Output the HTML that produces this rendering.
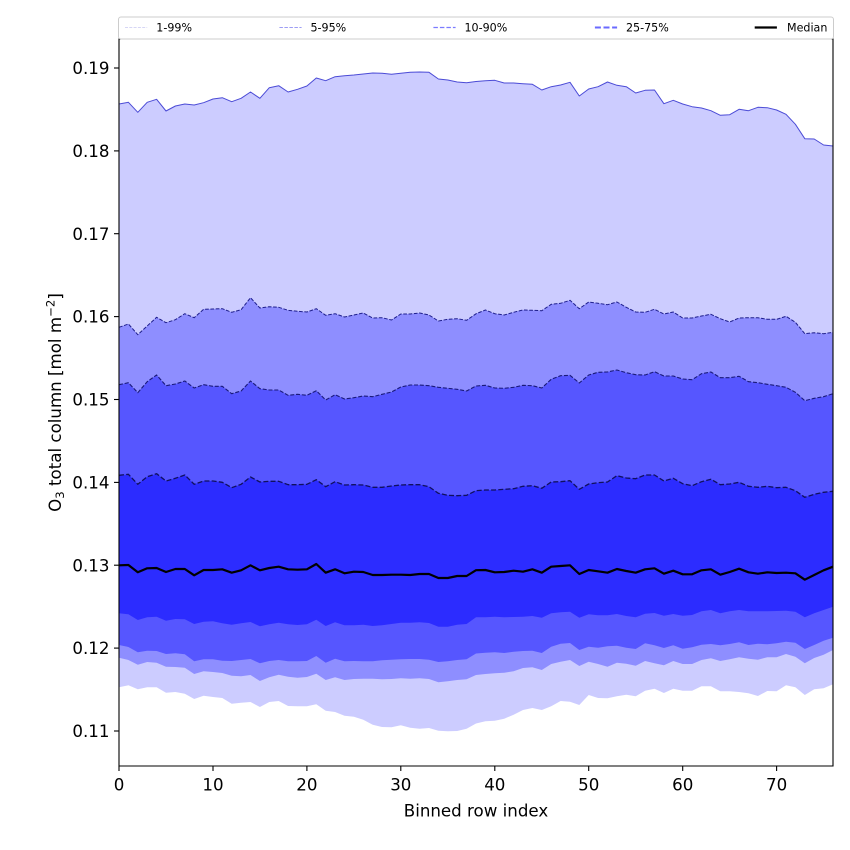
<!DOCTYPE html>
<html>
<head>
<meta charset="utf-8">
<style>
  html, body { margin:0; padding:0; background:#ffffff; }
  svg { display:block; }
  text { font-family: "DejaVu Sans", "Liberation Sans", sans-serif; fill:#000; }
</style>
</head>
<body>
<svg width="850" height="850" viewBox="0 0 850 850" xmlns="http://www.w3.org/2000/svg">
  <rect x="0" y="0" width="850" height="850" fill="#ffffff"/>

  <!-- Bands (stacked fills) -->
  <polygon fill="#ccccff" points="119,104 128.4,102.3 137.8,112.3 147.2,102.3 156.6,99.3 166,111 175.4,106 184.8,104 194.2,105 203.6,102.7 213,99 222.3,97.7 231.7,101.7 241.1,98.3 250.5,92 259.9,98.3 269.3,87.7 278.7,85.7 288.1,92 297.5,89.3 306.9,86 316.3,78 325.7,80.7 335.1,76.7 344.5,75.7 353.9,75 363.3,74 372.7,73 382.1,73.3 391.5,74.3 400.8,73.3 410.2,72.3 419.6,72 429,72.3 438.4,79 447.8,80 457.2,82 466.6,82.7 476,81.5 485.4,80.7 494.8,80.3 504.2,83 513.6,83 523,83.7 532.4,84.3 541.8,90 551.2,86.7 560.6,85 570,82.3 579.3,96 588.7,89 598.1,86.7 607.5,82 616.9,85.3 626.3,86.7 635.7,93 645.1,90.3 654.5,90 663.9,103.7 673.3,100.3 682.7,104 692.1,106.7 701.5,108 710.9,110.7 720.3,115.3 729.7,114.7 739.1,109.3 748.5,110.7 757.9,107.3 767.3,107.7 776.6,110 786,114.3 795.4,124.3 804.8,138.7 814.2,139 823.6,145 833,146 833,766 119,766"/>
  <polygon fill="#8e8eff" points="119,327.3 128.4,324 137.8,334.7 147.2,326 156.6,317.3 166,322.7 175.4,319.7 184.8,313.7 194.2,317.7 203.6,309.3 213,309 222.3,308.7 231.7,312.3 241.1,309.7 250.5,297.7 259.9,308 269.3,306.7 278.7,307.3 288.1,310.3 297.5,311.3 306.9,312 316.3,308.7 325.7,315.3 335.1,313.7 344.5,317 353.9,315 363.3,313 372.7,318 382.1,317.7 391.5,320 400.8,314 410.2,314 419.6,313 429,315 438.4,321 447.8,319.3 457.2,318.7 466.6,320.3 476,313.8 485.4,310 494.8,313.7 504.2,315 513.6,312.3 523,310 532.4,310.3 541.8,310.7 551.2,304.3 560.6,303.3 570,300.3 579.3,308.7 588.7,302 598.1,303.3 607.5,304.7 616.9,302 626.3,307.3 635.7,312 645.1,312.3 654.5,309.3 663.9,314 673.3,312 682.7,318 692.1,318 701.5,316 710.9,314.3 720.3,318.7 729.7,322 739.1,318 748.5,317.7 757.9,317.7 767.3,319.3 776.6,319.3 786,316.3 795.4,322.3 804.8,333.7 814.2,332.7 823.6,333.7 833,332.3 833,766 119,766"/>
  <polygon fill="#5656ff" points="119,384.7 128.4,382.7 137.8,392.7 147.2,381.7 156.6,375 166,385.7 175.4,384 184.8,381 194.2,388 203.6,384.7 213,386.3 222.3,386.3 231.7,393.7 241.1,391 250.5,381 259.9,388.7 269.3,390 278.7,390 288.1,395.3 297.5,394.3 306.9,395.3 316.3,390.7 325.7,400 335.1,394.7 344.5,399 353.9,397.7 363.3,396 372.7,396.7 382.1,394.3 391.5,392 400.8,387 410.2,385 419.6,385 429,385.7 438.4,387.3 447.8,388.3 457.2,389.3 466.6,391 476,386 485.4,385.3 494.8,388 504.2,388.3 513.6,387.3 523,385.3 532.4,385.7 541.8,388 551.2,379.3 560.6,375.7 570,375.3 579.3,383 588.7,375 598.1,372.3 607.5,372 616.9,370 626.3,372.7 635.7,374.7 645.1,375 654.5,371.7 663.9,376 673.3,376 682.7,379 692.1,379.7 701.5,373.7 710.9,372 720.3,377.7 729.7,377.7 739.1,376.3 748.5,381.7 757.9,382.7 767.3,384.3 776.6,385.7 786,387.3 795.4,392.3 804.8,400.7 814.2,398.3 823.6,396.7 833,393.7 833,766 119,766"/>
  <polygon fill="#2c2cff" points="119,475.3 128.4,474.3 137.8,484.3 147.2,476.7 156.6,473.7 166,481 175.4,478.3 184.8,475 194.2,484.3 203.6,481 213,481 222.3,482.3 231.7,487.7 241.1,484.3 250.5,477 259.9,482 269.3,481.3 278.7,481.3 288.1,484.7 297.5,484.7 306.9,484.3 316.3,479.7 325.7,486.7 335.1,481.7 344.5,485 353.9,484.7 363.3,485 372.7,487.3 382.1,487.3 391.5,486 400.8,485 410.2,484.7 419.6,484.7 429,486.7 438.4,493.3 447.8,495.3 457.2,495.7 466.6,495.3 476,490.7 485.4,490 494.8,490 504.2,489.3 513.6,488.7 523,486.3 532.4,485.7 541.8,488.3 551.2,482 560.6,481.7 570,480.7 579.3,489.3 588.7,484 598.1,482.7 607.5,482 616.9,475.7 626.3,478 635.7,478.7 645.1,475 654.5,475 663.9,481 673.3,478.3 682.7,483.7 692.1,485.7 701.5,481.7 710.9,479.3 720.3,484.7 729.7,484 739.1,482.3 748.5,486.3 757.9,487.3 767.3,486.3 776.6,487.7 786,487.3 795.4,490.7 804.8,497.3 814.2,494.3 823.6,492.3 833,491.3 833,766 119,766"/>
  <polygon fill="#5656ff" points="119,613.3 128.4,614.3 137.8,620 147.2,617.3 156.6,616.7 166,620.7 175.4,619 184.8,619.3 194.2,624 203.6,621.7 213,621.3 222.3,623.3 231.7,624.7 241.1,623.3 250.5,622 259.9,626.3 269.3,624.3 278.7,622.7 288.1,624.3 297.5,625 306.9,624.3 316.3,619.7 325.7,626 335.1,622.3 344.5,625.3 353.9,625.3 363.3,624.7 372.7,626 382.1,625.3 391.5,624 400.8,622.7 410.2,622.7 419.6,622.3 429,623 438.4,626.7 447.8,626.7 457.2,624.7 466.6,624 476,617.3 485.4,617.3 494.8,616.7 504.2,617.3 513.6,617 523,616.7 532.4,616 541.8,617.7 551.2,613.3 560.6,612.3 570,611.7 579.3,617.7 588.7,614.3 598.1,615.3 607.5,615.3 616.9,614 626.3,616 635.7,617.3 645.1,613.7 654.5,613 663.9,615.7 673.3,614 682.7,615.7 692.1,615 701.5,611.3 710.9,610 720.3,613.3 729.7,611.3 739.1,610 748.5,611.3 757.9,611.3 767.3,611.3 776.6,611 786,610.7 795.4,611.7 804.8,617.3 814.2,613.3 823.6,610 833,606.7 833,766 119,766"/>
  <polygon fill="#8e8eff" points="119,645 128.4,647 137.8,652.3 147.2,650.7 156.6,651 166,654 175.4,653.3 184.8,654.3 194.2,661.3 203.6,659.3 213,659.3 222.3,660.7 231.7,661 241.1,660 250.5,659 259.9,663.3 269.3,661 278.7,660 288.1,661.3 297.5,661.3 306.9,661 316.3,656 325.7,662.7 335.1,658.7 344.5,661.3 353.9,661 363.3,661.3 372.7,661.3 382.1,660.3 391.5,659.7 400.8,659.3 410.2,659 419.6,659 429,659.7 438.4,662 447.8,661.3 457.2,660 466.6,659.3 476,653.5 485.4,652.7 494.8,652.3 504.2,653 513.6,651.7 523,651 532.4,650.7 541.8,653 551.2,646.7 560.6,643.7 570,643 579.3,650 588.7,646.7 598.1,647.7 607.5,646.3 616.9,645.7 626.3,647.7 635.7,649 645.1,643.3 654.5,645.3 663.9,648 673.3,645.3 682.7,648.7 692.1,647.3 701.5,644.7 710.9,644 720.3,645.3 729.7,644 739.1,642.3 748.5,645 757.9,643.7 767.3,644.3 776.6,643.3 786,641.7 795.4,642.7 804.8,649 814.2,645 823.6,640.7 833,637.7 833,766 119,766"/>
  <polygon fill="#ccccff" points="119,657.7 128.4,660 137.8,664.7 147.2,662 156.6,662.7 166,666.7 175.4,667 184.8,667.7 194.2,674 203.6,671.3 213,672 222.3,673 231.7,675.7 241.1,676.3 250.5,675 259.9,681 269.3,677.3 278.7,674.7 288.1,676.7 297.5,677.7 306.9,677 316.3,673.7 325.7,680 335.1,677.3 344.5,680 353.9,679 363.3,678.7 372.7,678.7 382.1,679.3 391.5,679 400.8,678.3 410.2,678.7 419.6,678.3 429,679 438.4,682.3 447.8,681.3 457.2,680 466.6,679.3 476,675 485.4,674 494.8,673.3 504.2,672.7 513.6,671.3 523,668 532.4,667.3 541.8,670 551.2,664 560.6,661.7 570,660 579.3,666 588.7,661.7 598.1,664 607.5,666.7 616.9,662.7 626.3,663.7 635.7,665.7 645.1,661 654.5,663.3 663.9,665.3 673.3,661 682.7,664 692.1,664 701.5,660 710.9,658.3 720.3,661 729.7,659.3 739.1,657.3 748.5,658.7 757.9,659.7 767.3,657.3 776.6,657.3 786,654 795.4,656.7 804.8,663.3 814.2,658 823.6,654.7 833,650 833,766 119,766"/>
  <polygon fill="#ffffff" points="119,687.3 128.4,685.3 137.8,689.3 147.2,687.3 156.6,687.3 166,692.7 175.4,692 184.8,693.7 194.2,699 203.6,695.7 213,697 222.3,698 231.7,703.7 241.1,702.7 250.5,702 259.9,707 269.3,702 278.7,701 288.1,706 297.5,706.3 306.9,706.3 316.3,704.3 325.7,710.7 335.1,712 344.5,715.7 353.9,716.7 363.3,719.7 372.7,724.7 382.1,727 391.5,727.3 400.8,725.3 410.2,727.7 419.6,728.7 429,728 438.4,730.7 447.8,731.3 457.2,731 466.6,728.7 476,723.5 485.4,721.3 494.8,720.7 504.2,718.7 513.6,714.7 523,710 532.4,708 541.8,710 551.2,706.3 560.6,701 570,701.7 579.3,705 588.7,695 598.1,698 607.5,698.3 616.9,696.3 626.3,694.7 635.7,696.3 645.1,690.7 654.5,688.7 663.9,693 673.3,688.7 682.7,690.7 692.1,690.7 701.5,686.3 710.9,686.3 720.3,691.3 729.7,691.3 739.1,692 748.5,693.3 757.9,696 767.3,691 776.6,691.3 786,685.3 795.4,687.3 804.8,695 814.2,689.3 823.6,688.3 833,684.3 833,766 119,766"/>

  <!-- Upper percentile lines -->
  <polyline fill="none" stroke="#4b4bd6" stroke-width="1" stroke-linejoin="round" points="119,104 128.4,102.3 137.8,112.3 147.2,102.3 156.6,99.3 166,111 175.4,106 184.8,104 194.2,105 203.6,102.7 213,99 222.3,97.7 231.7,101.7 241.1,98.3 250.5,92 259.9,98.3 269.3,87.7 278.7,85.7 288.1,92 297.5,89.3 306.9,86 316.3,78 325.7,80.7 335.1,76.7 344.5,75.7 353.9,75 363.3,74 372.7,73 382.1,73.3 391.5,74.3 400.8,73.3 410.2,72.3 419.6,72 429,72.3 438.4,79 447.8,80 457.2,82 466.6,82.7 476,81.5 485.4,80.7 494.8,80.3 504.2,83 513.6,83 523,83.7 532.4,84.3 541.8,90 551.2,86.7 560.6,85 570,82.3 579.3,96 588.7,89 598.1,86.7 607.5,82 616.9,85.3 626.3,86.7 635.7,93 645.1,90.3 654.5,90 663.9,103.7 673.3,100.3 682.7,104 692.1,106.7 701.5,108 710.9,110.7 720.3,115.3 729.7,114.7 739.1,109.3 748.5,110.7 757.9,107.3 767.3,107.7 776.6,110 786,114.3 795.4,124.3 804.8,138.7 814.2,139 823.6,145 833,146"/>
  <polyline fill="none" stroke="#1e1e8c" stroke-width="1" stroke-dasharray="3.7,1.6" stroke-linejoin="round" points="119,327.3 128.4,324 137.8,334.7 147.2,326 156.6,317.3 166,322.7 175.4,319.7 184.8,313.7 194.2,317.7 203.6,309.3 213,309 222.3,308.7 231.7,312.3 241.1,309.7 250.5,297.7 259.9,308 269.3,306.7 278.7,307.3 288.1,310.3 297.5,311.3 306.9,312 316.3,308.7 325.7,315.3 335.1,313.7 344.5,317 353.9,315 363.3,313 372.7,318 382.1,317.7 391.5,320 400.8,314 410.2,314 419.6,313 429,315 438.4,321 447.8,319.3 457.2,318.7 466.6,320.3 476,313.8 485.4,310 494.8,313.7 504.2,315 513.6,312.3 523,310 532.4,310.3 541.8,310.7 551.2,304.3 560.6,303.3 570,300.3 579.3,308.7 588.7,302 598.1,303.3 607.5,304.7 616.9,302 626.3,307.3 635.7,312 645.1,312.3 654.5,309.3 663.9,314 673.3,312 682.7,318 692.1,318 701.5,316 710.9,314.3 720.3,318.7 729.7,322 739.1,318 748.5,317.7 757.9,317.7 767.3,319.3 776.6,319.3 786,316.3 795.4,322.3 804.8,333.7 814.2,332.7 823.6,333.7 833,332.3"/>
  <polyline fill="none" stroke="#1a1a7a" stroke-width="1.1" stroke-dasharray="4,1.8" stroke-linejoin="round" points="119,384.7 128.4,382.7 137.8,392.7 147.2,381.7 156.6,375 166,385.7 175.4,384 184.8,381 194.2,388 203.6,384.7 213,386.3 222.3,386.3 231.7,393.7 241.1,391 250.5,381 259.9,388.7 269.3,390 278.7,390 288.1,395.3 297.5,394.3 306.9,395.3 316.3,390.7 325.7,400 335.1,394.7 344.5,399 353.9,397.7 363.3,396 372.7,396.7 382.1,394.3 391.5,392 400.8,387 410.2,385 419.6,385 429,385.7 438.4,387.3 447.8,388.3 457.2,389.3 466.6,391 476,386 485.4,385.3 494.8,388 504.2,388.3 513.6,387.3 523,385.3 532.4,385.7 541.8,388 551.2,379.3 560.6,375.7 570,375.3 579.3,383 588.7,375 598.1,372.3 607.5,372 616.9,370 626.3,372.7 635.7,374.7 645.1,375 654.5,371.7 663.9,376 673.3,376 682.7,379 692.1,379.7 701.5,373.7 710.9,372 720.3,377.7 729.7,377.7 739.1,376.3 748.5,381.7 757.9,382.7 767.3,384.3 776.6,385.7 786,387.3 795.4,392.3 804.8,400.7 814.2,398.3 823.6,396.7 833,393.7"/>
  <polyline fill="none" stroke="#10105e" stroke-width="1.3" stroke-dasharray="5,2.2" stroke-linejoin="round" points="119,475.3 128.4,474.3 137.8,484.3 147.2,476.7 156.6,473.7 166,481 175.4,478.3 184.8,475 194.2,484.3 203.6,481 213,481 222.3,482.3 231.7,487.7 241.1,484.3 250.5,477 259.9,482 269.3,481.3 278.7,481.3 288.1,484.7 297.5,484.7 306.9,484.3 316.3,479.7 325.7,486.7 335.1,481.7 344.5,485 353.9,484.7 363.3,485 372.7,487.3 382.1,487.3 391.5,486 400.8,485 410.2,484.7 419.6,484.7 429,486.7 438.4,493.3 447.8,495.3 457.2,495.7 466.6,495.3 476,490.7 485.4,490 494.8,490 504.2,489.3 513.6,488.7 523,486.3 532.4,485.7 541.8,488.3 551.2,482 560.6,481.7 570,480.7 579.3,489.3 588.7,484 598.1,482.7 607.5,482 616.9,475.7 626.3,478 635.7,478.7 645.1,475 654.5,475 663.9,481 673.3,478.3 682.7,483.7 692.1,485.7 701.5,481.7 710.9,479.3 720.3,484.7 729.7,484 739.1,482.3 748.5,486.3 757.9,487.3 767.3,486.3 776.6,487.7 786,487.3 795.4,490.7 804.8,497.3 814.2,494.3 823.6,492.3 833,491.3"/>

  <!-- Median -->
  <polyline fill="none" stroke="#000000" stroke-width="2.2" stroke-linejoin="round" points="119,565.3 128.4,565 137.8,572.3 147.2,568.3 156.6,568 166,572 175.4,569 184.8,569 194.2,575.3 203.6,570 213,570 222.3,569.3 231.7,572.7 241.1,570.3 250.5,565.3 259.9,570.3 269.3,568 278.7,566.7 288.1,569.3 297.5,569.7 306.9,569.3 316.3,564 325.7,572.7 335.1,569.3 344.5,573.3 353.9,571.7 363.3,572 372.7,575 382.1,575 391.5,574.7 400.8,574.7 410.2,575 419.6,574 429,574 438.4,578 447.8,578 457.2,576 466.6,576 476,570.2 485.4,570 494.8,572.3 504.2,572 513.6,570.7 523,571.7 532.4,569.3 541.8,572.7 551.2,566.7 560.6,566 570,565.3 579.3,574 588.7,570 598.1,571.3 607.5,572.7 616.9,569 626.3,571 635.7,572.7 645.1,569.3 654.5,568.3 663.9,573.7 673.3,570.7 682.7,574.3 692.1,574.3 701.5,570.3 710.9,569.3 720.3,574.7 729.7,572 739.1,568.7 748.5,572.3 757.9,573.7 767.3,572.3 776.6,573 786,572.7 795.4,573.3 804.8,579.7 814.2,575 823.6,570.3 833,566.7"/>

  <!-- Spines -->
  <g stroke="#000" stroke-width="1.1" fill="none">
    <line x1="119" y1="39" x2="833" y2="39"/>
    <line x1="119" y1="766" x2="833" y2="766"/>
    <line x1="119" y1="38.5" x2="119" y2="766.5"/>
    <line x1="833" y1="38.5" x2="833" y2="766.5"/>
  </g>

  <!-- Y ticks -->
  <g stroke="#000" stroke-width="1.1">
    <line x1="114" y1="68" x2="119" y2="68"/>
    <line x1="114" y1="150.9" x2="119" y2="150.9"/>
    <line x1="114" y1="233.7" x2="119" y2="233.7"/>
    <line x1="114" y1="316.6" x2="119" y2="316.6"/>
    <line x1="114" y1="399.5" x2="119" y2="399.5"/>
    <line x1="114" y1="482.4" x2="119" y2="482.4"/>
    <line x1="114" y1="565.2" x2="119" y2="565.2"/>
    <line x1="114" y1="648.1" x2="119" y2="648.1"/>
    <line x1="114" y1="731" x2="119" y2="731"/>
  </g>
  <g font-size="16.67" text-anchor="end">
    <text x="109.5" y="74.1">0.19</text>
    <text x="109.5" y="157">0.18</text>
    <text x="109.5" y="239.8">0.17</text>
    <text x="109.5" y="322.7">0.16</text>
    <text x="109.5" y="405.6">0.15</text>
    <text x="109.5" y="488.5">0.14</text>
    <text x="109.5" y="571.3">0.13</text>
    <text x="109.5" y="654.2">0.12</text>
    <text x="109.5" y="737.1">0.11</text>
  </g>

  <!-- X ticks -->
  <g stroke="#000" stroke-width="1.1">
    <line x1="119" y1="766" x2="119" y2="771"/>
    <line x1="213" y1="766" x2="213" y2="771"/>
    <line x1="306.9" y1="766" x2="306.9" y2="771"/>
    <line x1="400.8" y1="766" x2="400.8" y2="771"/>
    <line x1="494.8" y1="766" x2="494.8" y2="771"/>
    <line x1="588.7" y1="766" x2="588.7" y2="771"/>
    <line x1="682.7" y1="766" x2="682.7" y2="771"/>
    <line x1="776.6" y1="766" x2="776.6" y2="771"/>
  </g>
  <g font-size="16.67" text-anchor="middle">
    <text x="119" y="790.5">0</text>
    <text x="213" y="790.5">10</text>
    <text x="306.9" y="790.5">20</text>
    <text x="400.8" y="790.5">30</text>
    <text x="494.8" y="790.5">40</text>
    <text x="588.7" y="790.5">50</text>
    <text x="682.7" y="790.5">60</text>
    <text x="776.6" y="790.5">70</text>
  </g>

  <!-- Axis labels -->
  <text x="476" y="816.5" font-size="16.67" text-anchor="middle">Binned row index</text>
  <text transform="translate(61,402.5) rotate(-90)" font-size="16.67" text-anchor="middle">O<tspan font-size="11.7" dy="3">3</tspan><tspan dy="-3"> total column [mol m</tspan><tspan font-size="11.7" dy="-6.5">−2</tspan><tspan dy="6.5">]</tspan></text>

  <!-- Legend -->
  <rect x="118.5" y="17" width="715" height="22" rx="2.5" ry="2.5" fill="#ffffff" fill-opacity="0.8" stroke="#cccccc" stroke-width="1"/>
  <line x1="125" y1="27.5" x2="147.2" y2="27.5" stroke="#c9c9f2" stroke-width="0.8" stroke-dasharray="3,1.3"/>
  <line x1="279.4" y1="27.5" x2="301.6" y2="27.5" stroke="#9d9df4" stroke-width="0.9" stroke-dasharray="3.5,1.5"/>
  <line x1="433.4" y1="27.5" x2="455.6" y2="27.5" stroke="#7b7bff" stroke-width="1.3" stroke-dasharray="4.5,2"/>
  <line x1="594.9" y1="27.5" x2="617.1" y2="27.5" stroke="#6a6aff" stroke-width="2" stroke-dasharray="6,2.6"/>
  <line x1="754.7" y1="27.5" x2="776.9" y2="27.5" stroke="#000000" stroke-width="2.2"/>
  <g font-size="11.1">
    <text x="156.3" y="31.5">1-99%</text>
    <text x="310.5" y="31.5">5-95%</text>
    <text x="464.5" y="31.5">10-90%</text>
    <text x="626" y="31.5">25-75%</text>
    <text x="787" y="31.5">Median</text>
  </g>
</svg>
</body>
</html>
